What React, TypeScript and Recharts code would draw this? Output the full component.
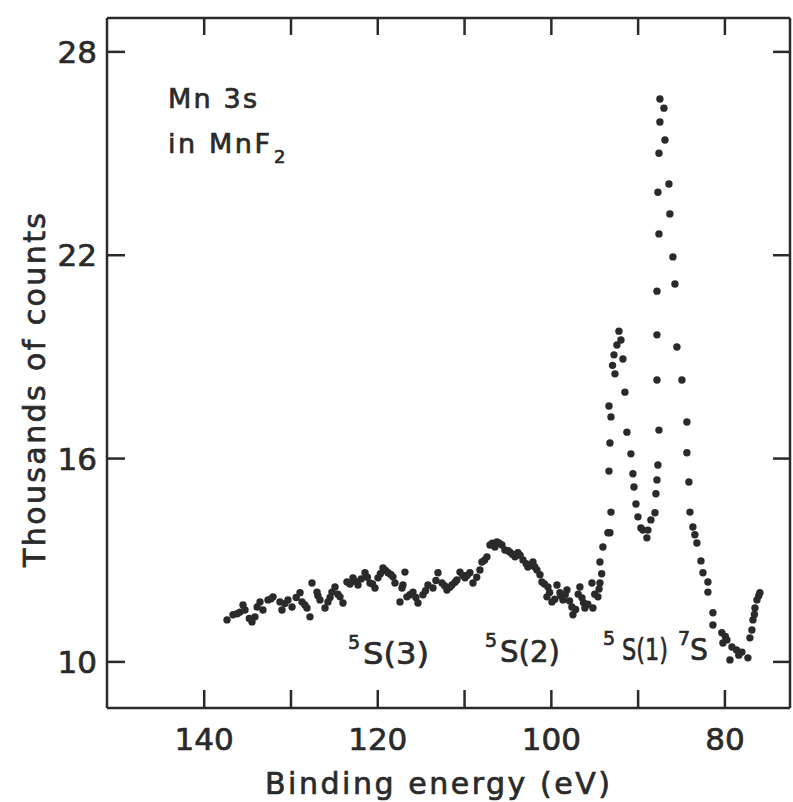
import { ScatterChart, Scatter, XAxis, YAxis } from 'recharts'

const INK = '#2a2a2a'
const FONT = '"DejaVu Sans", sans-serif'

// background and 3s satellite region
const baselineEnergy = [
  137.37, 136.68, 135.88, 135.53, 135.3, 134.49, 134.15, 133.57, 133.23, 132.65,
  132.07, 131.27, 131.04, 130.35, 129.88, 128.96, 128.73, 128.16, 127.81, 127.58,
  127.0, 126.66, 126.08, 125.74, 125.28, 124.93, 124.35, 124.01, 123.55, 122.86,
  122.28, 121.47, 120.9, 120.32, 119.98, 119.4, 118.82, 118.25, 118.02, 117.44,
  117.21, 116.87, 117.1, 116.64, 115.94, 115.37, 114.79, 114.22, 113.64, 113.06,
  112.6, 112.03, 111.45, 110.88, 110.53, 109.95, 109.38, 109.03, 108.23, 108.0,
  107.42, 107.07, 106.5, 106.27, 105.69, 105.35, 104.77, 104.19, 103.85, 103.27,
  102.7, 102.12, 101.66, 101.31, 101.08, 100.39, 100.51, 99.93, 99.35, 99.01,
  98.66, 98.2, 97.63, 97.51, 96.71, 96.47, 96.13, 95.32, 95.21, 94.63, 94.4,
  136.2, 134.8, 133.9, 132.3, 130.7, 129.4, 128.4, 126.9, 125.5, 124.6,
  123.2, 122.6, 121.9, 121.2, 120.6, 119.7, 119.1, 118.5, 116.3, 115.6,
  114.5, 113.3, 112.3, 111.7, 111.1, 110.2, 109.7, 108.6, 107.7, 106.8,
  106.0, 105.0, 104.5, 103.6, 102.9, 102.4, 101.9, 100.8, 100.2, 99.6,
  98.9, 98.4, 97.9, 97.2, 96.9, 96.3, 95.8, 95.0, 94.2, 94.5,
]
const baselineCounts = [
  11.24, 11.39, 11.47, 11.68, 11.53, 11.18, 11.33, 11.77, 11.53, 11.83,
  11.92, 11.77, 11.53, 11.83, 11.62, 12.04, 11.77, 11.59, 11.33, 12.33,
  12.06, 11.83, 11.59, 11.77, 12.06, 12.21, 11.92, 11.74, 12.36, 12.48,
  12.27, 12.63, 12.33, 12.18, 12.48, 12.77, 12.63, 12.51, 12.33, 11.77,
  12.18, 12.65, 12.27, 11.92, 12.06, 11.74, 11.98, 12.27, 12.18, 12.63,
  12.33, 12.12, 12.27, 12.42, 12.65, 12.48, 12.63, 12.33, 12.71, 12.95,
  13.1, 13.45, 13.39, 13.54, 13.45, 13.3, 13.24, 13.1, 13.22, 13.01,
  12.8, 12.95, 12.71, 12.57, 12.36, 12.21, 11.92, 11.77, 12.27, 12.04,
  11.83, 12.12, 11.62, 11.39, 12.21, 11.89, 11.59, 12.33, 11.59, 11.92, 12.33,
  11.42, 11.28, 11.62, 11.86, 11.72, 11.9, 11.68, 11.95, 11.9, 12.0,
  12.3, 12.38, 12.45, 12.5, 12.3, 12.6, 12.7, 12.58, 11.98, 11.9,
  12.1, 12.4, 12.25, 12.2, 12.35, 12.55, 12.55, 12.5, 13.0, 13.5,
  13.5, 13.28, 13.18, 13.15, 12.9, 12.85, 12.8, 12.3, 12.05, 11.85,
  11.95, 11.98, 11.8, 11.55, 12.0, 11.75, 11.7, 12.0, 12.6, 12.15,
]

// main peaks 5S(1) and 7S
const peakEnergy = [
  94.4, 94.06, 93.48, 93.25, 93.13, 93.36, 93.25, 93.13, 93.36, 92.67,
  92.78, 92.44, 92.21, 91.98, 91.75, 91.52, 91.29, 90.83, 90.6, 90.48,
  90.25, 90.02, 89.68, 89.45, 88.99, 88.87, 88.53, 88.06, 87.95, 87.83,
  87.72, 87.6, 87.83, 87.83, 87.83, 87.6, 87.72, 87.6, 87.49, 87.49,
  87.03, 86.91, 86.45, 86.34, 85.99, 85.76, 85.53, 84.95, 84.38, 84.38,
  84.15, 84.03, 83.69, 83.46, 83.23, 82.76, 82.53, 81.96, 81.96, 81.38,
  81.38, 80.35, 79.77, 80.23, 79.19, 79.42, 78.66, 78.04, 77.35, 77.12,
  76.89, 76.77, 76.54, 76.31, 75.97, 92.95, 79.95, 78.4, 76.6, 76.1,
]
const peakCounts = [
  12.95, 13.39, 13.81, 13.81, 14.42, 15.63, 16.46, 17.23, 17.55, 18.5,
  19.06, 19.35, 19.76, 19.5, 18.94, 17.96, 16.78, 16.14, 15.55, 15.16,
  14.66, 14.28, 13.95, 13.89, 13.66, 13.89, 14.19, 14.4, 14.96, 15.37,
  15.81, 16.84, 18.32, 19.65, 20.94, 22.63, 23.86, 25.01, 25.93, 26.61,
  26.34, 25.4, 24.1, 23.22, 21.95, 21.15, 19.29, 18.32, 17.08, 16.17,
  15.31, 14.42, 13.98, 13.75, 13.51, 12.98, 12.63, 12.36, 12.06, 11.45,
  11.09, 10.86, 10.65, 10.56, 10.44, 10.06, 10.35, 10.29, 10.12, 10.71,
  10.94, 11.24, 11.59, 11.83, 12.04, 18.75, 10.75, 10.2, 11.4, 11.95,
]

const xTicks = [140, 130, 120, 110, 100, 90, 80]
const xLabelled = [140, 120, 100, 80]
const yTicks = [10, 16, 22, 28]
const xDomain = [72.5, 151.2]
const yDomain = [8.64, 29.0]

const points = [
  ...baselineEnergy.map((e, i) => ({ energy: e, counts: baselineCounts[i] })),
  ...peakEnergy.map((e, i) => ({ energy: e, counts: peakCounts[i] })),
]

const Dot = (p: any) => <circle cx={p.cx} cy={p.cy} r={3.7} fill={INK} />
const NoDot = () => <g />

const textStyle = { fontFamily: FONT, fill: INK, stroke: INK, strokeWidth: 0.7 }

const BottomTick = ({ x, y, payload }: any) => (
  <g>
    <line x1={x} x2={x} y1={y} y2={y - 18} stroke={INK} strokeWidth={2.5} />
    {xLabelled.includes(payload.value) && (
      <text x={x} y={y + 42} textAnchor="middle" fontSize={31} style={textStyle}>
        {payload.value}
      </text>
    )}
  </g>
)

const TopTick = ({ x, y }: any) => (
  <line x1={x} x2={x} y1={y} y2={y + 17} stroke={INK} strokeWidth={2.5} />
)

const LeftTick = ({ x, y, payload }: any) => (
  <g>
    <line x1={x} x2={x + 18} y1={y} y2={y} stroke={INK} strokeWidth={2.5} />
    <text x={x - 10} y={y + 11} textAnchor="end" fontSize={31} style={textStyle}>
      {payload.value}
    </text>
  </g>
)

const RightTick = ({ x, y }: any) => (
  <line x1={x} x2={x - 17} y1={y} y2={y} stroke={INK} strokeWidth={2.5} />
)

const axisLine = { stroke: INK, strokeWidth: 2.5 }

function PeakLabel({ x, y, sup, text, gap, w }: { x: number; y: number; sup: string; text: string; gap: number; w: number }) {
  return (
    <g>
      <text x={x} y={y - 15} fontSize={19} style={textStyle}>{sup}</text>
      <text x={x + gap} y={y} fontSize={31} style={textStyle} textLength={w} lengthAdjust="spacingAndGlyphs">
        {text}
      </text>
    </g>
  )
}

export default function App() {
  return (
    <div style={{ position: 'absolute', left: 0, top: 0, width: 793, height: 802, background: '#fff' }}>
      <ScatterChart width={793} height={802} margin={{ top: 17, right: 2, bottom: 64, left: 47 }}>
        <XAxis
          xAxisId="b"
          type="number"
          dataKey="energy"
          domain={xDomain}
          allowDataOverflow
          reversed
          ticks={xTicks}
          height={30}
          tickSize={0}
          tickMargin={0}
          tickLine={false}
          axisLine={axisLine}
          tick={<BottomTick />}
        />
        <XAxis
          xAxisId="t"
          orientation="top"
          type="number"
          dataKey="energy"
          domain={xDomain}
          allowDataOverflow
          reversed
          ticks={xTicks}
          height={1}
          tickSize={0}
          tickMargin={0}
          tickLine={false}
          axisLine={axisLine}
          tick={<TopTick />}
        />
        <YAxis
          yAxisId="l"
          type="number"
          dataKey="counts"
          domain={yDomain}
          allowDataOverflow
          ticks={yTicks}
          width={60}
          tickSize={0}
          tickMargin={0}
          tickLine={false}
          axisLine={axisLine}
          tick={<LeftTick />}
        />
        <YAxis
          yAxisId="r"
          orientation="right"
          type="number"
          dataKey="counts"
          domain={yDomain}
          allowDataOverflow
          ticks={yTicks}
          width={1}
          tickSize={0}
          tickMargin={0}
          tickLine={false}
          axisLine={axisLine}
          tick={<RightTick />}
        />
        <Scatter xAxisId="b" yAxisId="l" data={points} shape={Dot} isAnimationActive={false} />
        <Scatter xAxisId="t" yAxisId="r" data={points} shape={NoDot} isAnimationActive={false} />
      </ScatterChart>

      <svg
        width={793}
        height={802}
        style={{ position: 'absolute', left: 0, top: 0, pointerEvents: 'none' }}
      >
        <text x={168} y={108} fontSize={27} style={textStyle} textLength={89} lengthAdjust="spacing">
          Mn 3s
        </text>
        <text x={168} y={153} fontSize={27} style={textStyle} textLength={102} lengthAdjust="spacing">
          in  MnF
        </text>
        <text x={274} y={163} fontSize={18} style={textStyle}>2</text>

        <PeakLabel x={348} y={664} sup="5" text="S(3)" gap={15} w={66} />
        <PeakLabel x={485} y={662} sup="5" text="S(2)" gap={15} w={60} />
        <PeakLabel x={603} y={660} sup="5" text="S(1)" gap={19} w={46} />
        <PeakLabel x={678} y={660} sup="7" text="S" gap={12} w={18} />

        <text x={265} y={794} fontSize={30} style={textStyle} textLength={345} lengthAdjust="spacing">
          Binding  energy  (eV)
        </text>
        <text
          x={0}
          y={0}
          transform="translate(45 567) rotate(-90)"
          fontSize={30}
          style={textStyle}
          textLength={354}
          lengthAdjust="spacing"
        >
          Thousands  of  counts
        </text>
      </svg>
    </div>
  )
}
